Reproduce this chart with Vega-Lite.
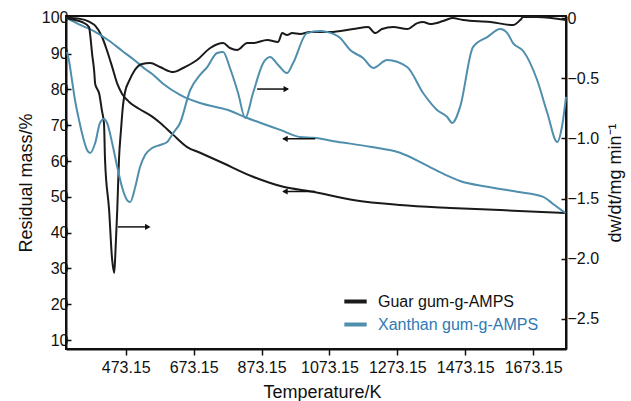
{
  "$schema": "https://vega.github.io/schema/vega-lite/v6.json",
  "width": 500,
  "height": 333,
  "autosize": "none",
  "padding": {"left": 66, "top": 16, "right": 65, "bottom": 52},
  "config": {
    "font": "Liberation Sans",
    "view": {"stroke": "#111111", "strokeWidth": 2},
    "axis": {"grid": false, "labelOverlap": false, "domainColor": "#111111", "domainWidth": 2, "tickColor": "#111111", "tickWidth": 1.5, "labelColor": "#111111", "titleColor": "#111111", "labelFontSize": 16, "titleFontSize": 18, "titleFontWeight": "normal"},
    "legend": {"orient": "none", "legendX": 276, "legendY": 272, "symbolType": "stroke", "symbolStrokeWidth": 4, "symbolSize": 500, "labelFontSize": 16, "labelOffset": 9, "rowPadding": 1, "padding": 0, "labelLimit": 300}
  },
  "datasets": {
    "tg": [
      {"s": "Guar gum-g-AMPS", "T": 297, "v": 100},
      {"s": "Guar gum-g-AMPS", "T": 339, "v": 99.7},
      {"s": "Guar gum-g-AMPS", "T": 365, "v": 98.9},
      {"s": "Guar gum-g-AMPS", "T": 383, "v": 97.8},
      {"s": "Guar gum-g-AMPS", "T": 403, "v": 94.7},
      {"s": "Guar gum-g-AMPS", "T": 418, "v": 90.8},
      {"s": "Guar gum-g-AMPS", "T": 433, "v": 86.3},
      {"s": "Guar gum-g-AMPS", "T": 448, "v": 81.6},
      {"s": "Guar gum-g-AMPS", "T": 462, "v": 78.8},
      {"s": "Guar gum-g-AMPS", "T": 483, "v": 76.5},
      {"s": "Guar gum-g-AMPS", "T": 512, "v": 74.6},
      {"s": "Guar gum-g-AMPS", "T": 551, "v": 72.4},
      {"s": "Guar gum-g-AMPS", "T": 574, "v": 70.7},
      {"s": "Guar gum-g-AMPS", "T": 613, "v": 67.3},
      {"s": "Guar gum-g-AMPS", "T": 654, "v": 63.9},
      {"s": "Guar gum-g-AMPS", "T": 692, "v": 62.3},
      {"s": "Guar gum-g-AMPS", "T": 751, "v": 59.8},
      {"s": "Guar gum-g-AMPS", "T": 848, "v": 55.6},
      {"s": "Guar gum-g-AMPS", "T": 937, "v": 52.8},
      {"s": "Guar gum-g-AMPS", "T": 1025, "v": 51.4},
      {"s": "Guar gum-g-AMPS", "T": 1143, "v": 49.1},
      {"s": "Guar gum-g-AMPS", "T": 1281, "v": 47.7},
      {"s": "Guar gum-g-AMPS", "T": 1429, "v": 46.9},
      {"s": "Guar gum-g-AMPS", "T": 1576, "v": 46.3},
      {"s": "Guar gum-g-AMPS", "T": 1768, "v": 45.5},
      {"s": "Xanthan gum-g-AMPS", "T": 297, "v": 100},
      {"s": "Xanthan gum-g-AMPS", "T": 344, "v": 97.8},
      {"s": "Xanthan gum-g-AMPS", "T": 383, "v": 96.1},
      {"s": "Xanthan gum-g-AMPS", "T": 424, "v": 93.6},
      {"s": "Xanthan gum-g-AMPS", "T": 462, "v": 90.8},
      {"s": "Xanthan gum-g-AMPS", "T": 501, "v": 88.0},
      {"s": "Xanthan gum-g-AMPS", "T": 530, "v": 85.7},
      {"s": "Xanthan gum-g-AMPS", "T": 551, "v": 84.3},
      {"s": "Xanthan gum-g-AMPS", "T": 583, "v": 81.6},
      {"s": "Xanthan gum-g-AMPS", "T": 633, "v": 78.5},
      {"s": "Xanthan gum-g-AMPS", "T": 692, "v": 76.2},
      {"s": "Xanthan gum-g-AMPS", "T": 772, "v": 74.3},
      {"s": "Xanthan gum-g-AMPS", "T": 831, "v": 72.0},
      {"s": "Xanthan gum-g-AMPS", "T": 869, "v": 70.7},
      {"s": "Xanthan gum-g-AMPS", "T": 928, "v": 68.7},
      {"s": "Xanthan gum-g-AMPS", "T": 987, "v": 66.7},
      {"s": "Xanthan gum-g-AMPS", "T": 1025, "v": 66.5},
      {"s": "Xanthan gum-g-AMPS", "T": 1096, "v": 65.4},
      {"s": "Xanthan gum-g-AMPS", "T": 1193, "v": 64.0},
      {"s": "Xanthan gum-g-AMPS", "T": 1281, "v": 62.3},
      {"s": "Xanthan gum-g-AMPS", "T": 1361, "v": 58.7},
      {"s": "Xanthan gum-g-AMPS", "T": 1420, "v": 55.9},
      {"s": "Xanthan gum-g-AMPS", "T": 1458, "v": 54.4},
      {"s": "Xanthan gum-g-AMPS", "T": 1538, "v": 52.8},
      {"s": "Xanthan gum-g-AMPS", "T": 1626, "v": 51.4},
      {"s": "Xanthan gum-g-AMPS", "T": 1703, "v": 50.0},
      {"s": "Xanthan gum-g-AMPS", "T": 1732, "v": 48.0},
      {"s": "Xanthan gum-g-AMPS", "T": 1768, "v": 45.5}
    ],
    "dtg": [
      {"s": "Guar gum-g-AMPS", "T": 297, "v": 0},
      {"s": "Guar gum-g-AMPS", "T": 324, "v": -0.017},
      {"s": "Guar gum-g-AMPS", "T": 344, "v": -0.033},
      {"s": "Guar gum-g-AMPS", "T": 365, "v": -0.075},
      {"s": "Guar gum-g-AMPS", "T": 368, "v": -0.133},
      {"s": "Guar gum-g-AMPS", "T": 374, "v": -0.299},
      {"s": "Guar gum-g-AMPS", "T": 380, "v": -0.44},
      {"s": "Guar gum-g-AMPS", "T": 383, "v": -0.548},
      {"s": "Guar gum-g-AMPS", "T": 395, "v": -0.631},
      {"s": "Guar gum-g-AMPS", "T": 403, "v": -0.772},
      {"s": "Guar gum-g-AMPS", "T": 409, "v": -0.88},
      {"s": "Guar gum-g-AMPS", "T": 412, "v": -1.179},
      {"s": "Guar gum-g-AMPS", "T": 424, "v": -1.595},
      {"s": "Guar gum-g-AMPS", "T": 433, "v": -2.01},
      {"s": "Guar gum-g-AMPS", "T": 439, "v": -2.118},
      {"s": "Guar gum-g-AMPS", "T": 442, "v": -1.985},
      {"s": "Guar gum-g-AMPS", "T": 448, "v": -1.595},
      {"s": "Guar gum-g-AMPS", "T": 453, "v": -1.179},
      {"s": "Guar gum-g-AMPS", "T": 459, "v": -0.93},
      {"s": "Guar gum-g-AMPS", "T": 465, "v": -0.723},
      {"s": "Guar gum-g-AMPS", "T": 471, "v": -0.615},
      {"s": "Guar gum-g-AMPS", "T": 483, "v": -0.523},
      {"s": "Guar gum-g-AMPS", "T": 498, "v": -0.44},
      {"s": "Guar gum-g-AMPS", "T": 521, "v": -0.382},
      {"s": "Guar gum-g-AMPS", "T": 545, "v": -0.374},
      {"s": "Guar gum-g-AMPS", "T": 574, "v": -0.407},
      {"s": "Guar gum-g-AMPS", "T": 613, "v": -0.449},
      {"s": "Guar gum-g-AMPS", "T": 642, "v": -0.415},
      {"s": "Guar gum-g-AMPS", "T": 683, "v": -0.349},
      {"s": "Guar gum-g-AMPS", "T": 722, "v": -0.249},
      {"s": "Guar gum-g-AMPS", "T": 760, "v": -0.208},
      {"s": "Guar gum-g-AMPS", "T": 780, "v": -0.249},
      {"s": "Guar gum-g-AMPS", "T": 801, "v": -0.266},
      {"s": "Guar gum-g-AMPS", "T": 831, "v": -0.208},
      {"s": "Guar gum-g-AMPS", "T": 848, "v": -0.208},
      {"s": "Guar gum-g-AMPS", "T": 890, "v": -0.183},
      {"s": "Guar gum-g-AMPS", "T": 922, "v": -0.199},
      {"s": "Guar gum-g-AMPS", "T": 934, "v": -0.125},
      {"s": "Guar gum-g-AMPS", "T": 948, "v": -0.141},
      {"s": "Guar gum-g-AMPS", "T": 963, "v": -0.125},
      {"s": "Guar gum-g-AMPS", "T": 987, "v": -0.133},
      {"s": "Guar gum-g-AMPS", "T": 1016, "v": -0.116},
      {"s": "Guar gum-g-AMPS", "T": 1075, "v": -0.116},
      {"s": "Guar gum-g-AMPS", "T": 1143, "v": -0.091},
      {"s": "Guar gum-g-AMPS", "T": 1187, "v": -0.075},
      {"s": "Guar gum-g-AMPS", "T": 1208, "v": -0.125},
      {"s": "Guar gum-g-AMPS", "T": 1228, "v": -0.091},
      {"s": "Guar gum-g-AMPS", "T": 1261, "v": -0.075},
      {"s": "Guar gum-g-AMPS", "T": 1302, "v": -0.091},
      {"s": "Guar gum-g-AMPS", "T": 1332, "v": -0.042},
      {"s": "Guar gum-g-AMPS", "T": 1349, "v": -0.033},
      {"s": "Guar gum-g-AMPS", "T": 1370, "v": -0.05},
      {"s": "Guar gum-g-AMPS", "T": 1408, "v": -0.025},
      {"s": "Guar gum-g-AMPS", "T": 1435, "v": 0},
      {"s": "Guar gum-g-AMPS", "T": 1467, "v": -0.017},
      {"s": "Guar gum-g-AMPS", "T": 1547, "v": -0.033},
      {"s": "Guar gum-g-AMPS", "T": 1614, "v": -0.058},
      {"s": "Guar gum-g-AMPS", "T": 1635, "v": -0.017},
      {"s": "Guar gum-g-AMPS", "T": 1644, "v": 0.008},
      {"s": "Guar gum-g-AMPS", "T": 1685, "v": 0.008},
      {"s": "Guar gum-g-AMPS", "T": 1770, "v": -0.017},
      {"s": "Xanthan gum-g-AMPS", "T": 300, "v": -0.282},
      {"s": "Xanthan gum-g-AMPS", "T": 306, "v": -0.357},
      {"s": "Xanthan gum-g-AMPS", "T": 315, "v": -0.523},
      {"s": "Xanthan gum-g-AMPS", "T": 324, "v": -0.689},
      {"s": "Xanthan gum-g-AMPS", "T": 336, "v": -0.855},
      {"s": "Xanthan gum-g-AMPS", "T": 344, "v": -0.955},
      {"s": "Xanthan gum-g-AMPS", "T": 359, "v": -1.096},
      {"s": "Xanthan gum-g-AMPS", "T": 368, "v": -1.121},
      {"s": "Xanthan gum-g-AMPS", "T": 383, "v": -1.038},
      {"s": "Xanthan gum-g-AMPS", "T": 397, "v": -0.872},
      {"s": "Xanthan gum-g-AMPS", "T": 409, "v": -0.839},
      {"s": "Xanthan gum-g-AMPS", "T": 418, "v": -0.872},
      {"s": "Xanthan gum-g-AMPS", "T": 433, "v": -1.038},
      {"s": "Xanthan gum-g-AMPS", "T": 448, "v": -1.238},
      {"s": "Xanthan gum-g-AMPS", "T": 462, "v": -1.404},
      {"s": "Xanthan gum-g-AMPS", "T": 477, "v": -1.512},
      {"s": "Xanthan gum-g-AMPS", "T": 486, "v": -1.528},
      {"s": "Xanthan gum-g-AMPS", "T": 501, "v": -1.404},
      {"s": "Xanthan gum-g-AMPS", "T": 515, "v": -1.238},
      {"s": "Xanthan gum-g-AMPS", "T": 530, "v": -1.138},
      {"s": "Xanthan gum-g-AMPS", "T": 551, "v": -1.08},
      {"s": "Xanthan gum-g-AMPS", "T": 574, "v": -1.055},
      {"s": "Xanthan gum-g-AMPS", "T": 595, "v": -1.03},
      {"s": "Xanthan gum-g-AMPS", "T": 613, "v": -0.955},
      {"s": "Xanthan gum-g-AMPS", "T": 633, "v": -0.872},
      {"s": "Xanthan gum-g-AMPS", "T": 663, "v": -0.598},
      {"s": "Xanthan gum-g-AMPS", "T": 692, "v": -0.473},
      {"s": "Xanthan gum-g-AMPS", "T": 713, "v": -0.407},
      {"s": "Xanthan gum-g-AMPS", "T": 742, "v": -0.291},
      {"s": "Xanthan gum-g-AMPS", "T": 760, "v": -0.282},
      {"s": "Xanthan gum-g-AMPS", "T": 780, "v": -0.415},
      {"s": "Xanthan gum-g-AMPS", "T": 804, "v": -0.623},
      {"s": "Xanthan gum-g-AMPS", "T": 825, "v": -0.831},
      {"s": "Xanthan gum-g-AMPS", "T": 848, "v": -0.623},
      {"s": "Xanthan gum-g-AMPS", "T": 878, "v": -0.374},
      {"s": "Xanthan gum-g-AMPS", "T": 898, "v": -0.324},
      {"s": "Xanthan gum-g-AMPS", "T": 922, "v": -0.39},
      {"s": "Xanthan gum-g-AMPS", "T": 948, "v": -0.457},
      {"s": "Xanthan gum-g-AMPS", "T": 966, "v": -0.374},
      {"s": "Xanthan gum-g-AMPS", "T": 1007, "v": -0.125},
      {"s": "Xanthan gum-g-AMPS", "T": 1046, "v": -0.108},
      {"s": "Xanthan gum-g-AMPS", "T": 1066, "v": -0.116},
      {"s": "Xanthan gum-g-AMPS", "T": 1105, "v": -0.166},
      {"s": "Xanthan gum-g-AMPS", "T": 1134, "v": -0.266},
      {"s": "Xanthan gum-g-AMPS", "T": 1172, "v": -0.332},
      {"s": "Xanthan gum-g-AMPS", "T": 1202, "v": -0.415},
      {"s": "Xanthan gum-g-AMPS", "T": 1243, "v": -0.349},
      {"s": "Xanthan gum-g-AMPS", "T": 1302, "v": -0.407},
      {"s": "Xanthan gum-g-AMPS", "T": 1349, "v": -0.623},
      {"s": "Xanthan gum-g-AMPS", "T": 1390, "v": -0.764},
      {"s": "Xanthan gum-g-AMPS", "T": 1420, "v": -0.822},
      {"s": "Xanthan gum-g-AMPS", "T": 1435, "v": -0.872},
      {"s": "Xanthan gum-g-AMPS", "T": 1458, "v": -0.739},
      {"s": "Xanthan gum-g-AMPS", "T": 1496, "v": -0.241},
      {"s": "Xanthan gum-g-AMPS", "T": 1538, "v": -0.158},
      {"s": "Xanthan gum-g-AMPS", "T": 1576, "v": -0.091},
      {"s": "Xanthan gum-g-AMPS", "T": 1597, "v": -0.125},
      {"s": "Xanthan gum-g-AMPS", "T": 1614, "v": -0.208},
      {"s": "Xanthan gum-g-AMPS", "T": 1644, "v": -0.274},
      {"s": "Xanthan gum-g-AMPS", "T": 1685, "v": -0.515},
      {"s": "Xanthan gum-g-AMPS", "T": 1715, "v": -0.789},
      {"s": "Xanthan gum-g-AMPS", "T": 1744, "v": -1.03},
      {"s": "Xanthan gum-g-AMPS", "T": 1759, "v": -0.889},
      {"s": "Xanthan gum-g-AMPS", "T": 1770, "v": -0.656}
    ],
    "arrows": [
      {"T": 450, "T2": 541, "head": 538, "v": 41.6, "d": "right"},
      {"T": 860, "T2": 951, "head": 946, "v": 80.1, "d": "right"},
      {"T": 937, "T2": 1031, "head": 942, "v": 66.2, "d": "left"},
      {"T": 937, "T2": 1031, "head": 942, "v": 51.5, "d": "left"}
    ]
  },
  "layer": [
    {
      "encoding": {
        "y": {"field": "v", "type": "quantitative", "scale": {"domain": [7.5, 100.5], "nice": false, "zero": false},
              "axis": {"orient": "left", "values": [10, 20, 30, 40, 50, 60, 70, 80, 90, 100], "title": "Residual mass/%", "tickSize": -5, "labelPadding": 3, "titlePadding": 6, "labelOverlap": false, "labelBound": false, "labelFlush": false}}
      },
      "layer": [
        {
          "data": {"name": "tg"},
          "mark": {"type": "line", "strokeWidth": 2, "interpolate": "monotone"},
          "encoding": {
            "x": {"field": "T", "type": "quantitative", "scale": {"domain": [297, 1770], "nice": false, "zero": false},
                  "axis": {"values": [473.15, 673.15, 873.15, 1073.15, 1273.15, 1473.15, 1673.15], "format": ".2f", "title": "Temperature/K", "titleX": 256, "tickSize": 6, "labelPadding": 4, "titlePadding": 8, "labelOverlap": false}},
            "color": {"field": "s", "type": "nominal", "scale": {"domain": ["Guar gum-g-AMPS", "Xanthan gum-g-AMPS"], "range": ["#1a1a1a", "#4f8eac"]},
                      "legend": {"title": null, "encode": {"labels": {"update": {"fill": {"signal": "datum.label === 'Xanthan gum-g-AMPS' ? '#2f79b5' : '#111111'"}}}}}}
          }
        },
        {
          "data": {"name": "arrows"},
          "mark": {"type": "rule", "strokeWidth": 1.5, "color": "#111111"},
          "encoding": {
            "x": {"field": "T", "type": "quantitative"},
            "x2": {"field": "T2"}
          }
        },
        {
          "data": {"name": "arrows"},
          "mark": {"type": "point", "filled": true, "color": "#111111", "size": 40, "opacity": 1},
          "encoding": {
            "x": {"field": "head", "type": "quantitative"},
            "shape": {"field": "d", "type": "nominal", "scale": {"domain": ["right", "left"], "range": ["triangle-right", "triangle-left"]}, "legend": null}
          }
        }
      ]
    },
    {
      "data": {"name": "dtg"},
      "mark": {"type": "line", "strokeWidth": 2, "interpolate": "monotone"},
      "encoding": {
        "x": {"field": "T", "type": "quantitative"},
        "y": {"field": "v", "type": "quantitative", "scale": {"domain": [-2.75, 0.017], "nice": false, "zero": false},
              "axis": {"orient": "right", "values": [0, -0.5, -1, -1.5, -2, -2.5], "labelExpr": "datum.value == 0 ? '0' : format(datum.value, '.1f')", "title": "dw/dt/mg min⁻¹", "titleAngle": 270, "titleBaseline": "top", "tickSize": -5, "labelPadding": 6, "titlePadding": 8, "labelOverlap": false}},
        "color": {"field": "s", "type": "nominal", "scale": {"domain": ["Guar gum-g-AMPS", "Xanthan gum-g-AMPS"], "range": ["#1a1a1a", "#4f8eac"]}}
      }
    }
  ],
  "resolve": {"scale": {"y": "independent"}}
}
